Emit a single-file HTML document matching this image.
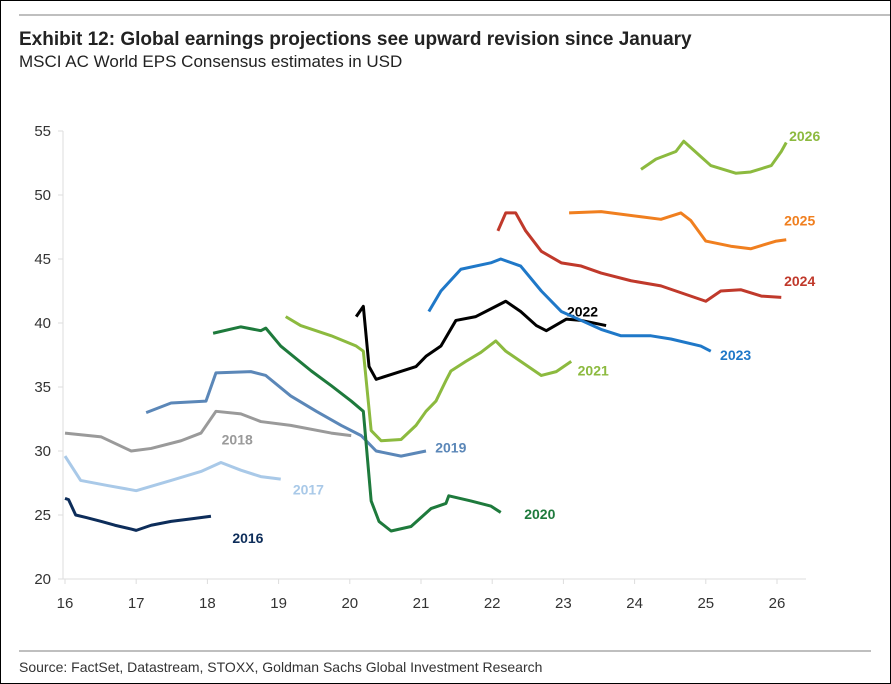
<!DOCTYPE html>
<html><head><meta charset="utf-8"><style>
body{margin:0;background:#fff;font-family:"Liberation Sans",sans-serif}
#wrap{position:relative;width:889px;height:682px;border:1px solid #000;overflow:hidden}
</style></head><body>
<div id="wrap">
<svg id="chart" width="889" height="682">
<line x1="18" y1="14" x2="889" y2="14" stroke="#aaa" stroke-width="1.5"/>
<text x="18" y="44" font-size="19" font-weight="bold" fill="#222">Exhibit 12: Global earnings projections see upward revision since January</text>
<text x="18" y="66" font-size="17" fill="#222">MSCI AC World EPS Consensus estimates in USD</text>
<line x1="18" y1="650" x2="870" y2="650" stroke="#aaa" stroke-width="1.5"/>
<text x="18" y="671" font-size="14" fill="#333">Source: FactSet, Datastream, STOXX, Goldman Sachs Global Investment Research</text>
<g id="axes"></g><g id="series"></g>
</svg></div>
<script>
const yTicks=[20,25,30,35,40,45,50,55];
const xTicks=[16,17,18,19,20,21,22,23,24,25,26];
const seriesNames=["2016","2017","2018","2019","2020","2021","2022","2023","2024","2025","2026"];
const s2016=[[16,26.3],[16.05,26.2],[16.15,25.0],[16.3,24.8],[16.51,24.5],[16.7,24.2],[16.93,23.9],[17.0,23.8],[17.21,24.2],[17.49,24.5],[17.77,24.7],[18.05,24.9]];
const s2017=[[16,29.6],[16.22,27.7],[16.6,27.3],[17.0,26.9],[17.49,27.7],[17.91,28.4],[18.19,29.1],[18.47,28.5],[18.75,28.0],[19.03,27.8]];
const s2018=[[16,31.4],[16.51,31.1],[16.93,30.0],[17.21,30.2],[17.63,30.8],[17.91,31.4],[18.12,33.1],[18.47,32.9],[18.75,32.3],[19.17,32.0],[19.74,31.4],[20.02,31.2]];
const s2019=[[17.14,33.0],[17.49,33.75],[17.98,33.9],[18.12,36.1],[18.61,36.2],[18.82,35.9],[19.17,34.3],[19.53,33.1],[19.88,32.0],[20.16,31.2],[20.37,30.0],[20.72,29.6],[21.07,30.0]];
const s2020=[[18.08,39.2],[18.47,39.7],[18.75,39.4],[18.82,39.6],[19.03,38.2],[19.46,36.25],[19.74,35.1],[20.02,33.9],[20.19,33.1],[20.3,26.1],[20.41,24.5],[20.58,23.75],[20.86,24.1],[21.14,25.5],[21.35,25.9],[21.39,26.5],[21.7,26.1],[21.98,25.7],[22.12,25.2]];
const s2021=[[19.1,40.5],[19.31,39.8],[19.74,39.0],[20.09,38.2],[20.19,37.8],[20.3,31.6],[20.44,30.8],[20.72,30.9],[20.93,32.0],[21.07,33.1],[21.21,33.9],[21.35,35.5],[21.42,36.25],[21.63,37.0],[21.84,37.7],[22.05,38.6],[22.19,37.8],[22.4,37.0],[22.69,35.9],[22.9,36.2],[23.11,37.0]];
const s2022=[[20.09,40.5],[20.19,41.3],[20.27,36.6],[20.37,35.6],[20.65,36.1],[20.93,36.6],[21.07,37.4],[21.28,38.2],[21.49,40.2],[21.77,40.5],[22.05,41.3],[22.19,41.7],[22.4,40.9],[22.62,39.8],[22.76,39.4],[23.04,40.3],[23.25,40.2],[23.6,39.8]];
const s2023=[[21.11,40.9],[21.28,42.5],[21.56,44.2],[21.98,44.7],[22.12,45.0],[22.4,44.45],[22.69,42.5],[22.97,40.9],[23.25,40.2],[23.53,39.5],[23.81,39.0],[24.23,39.0],[24.51,38.75],[24.93,38.2],[25.07,37.8]];
const s2024=[[22.08,47.2],[22.19,48.6],[22.33,48.6],[22.47,47.2],[22.69,45.6],[22.97,44.7],[23.25,44.45],[23.53,43.9],[23.95,43.3],[24.37,42.9],[25.0,41.7],[25.21,42.5],[25.49,42.6],[25.78,42.1],[26.06,42.0]];
const s2025=[[23.08,48.6],[23.53,48.7],[24.09,48.3],[24.37,48.1],[24.65,48.6],[24.79,48.0],[25.0,46.4],[25.35,46.0],[25.63,45.8],[25.99,46.4],[26.13,46.5]];
const s2026=[[24.09,52.0],[24.3,52.8],[24.58,53.4],[24.69,54.2],[24.93,53.0],[25.07,52.3],[25.42,51.7],[25.63,51.8],[25.92,52.3],[26.06,53.4],[26.13,54.1]];
const allSeries=[s2016,s2017,s2018,s2019,s2020,s2021,s2022,s2023,s2024,s2025,s2026];
const colors=["#0d2d5a","#a9c9e8","#9a9a9a","#5b87b8","#1e7a3c","#8cba3f","#000000","#1f78c8","#c0392b","#f07f1f","#8cba3f"];
const labelPos=[[18.35,22.8],[19.2,26.6],[18.2,30.5],[21.2,29.9],[22.45,24.7],[23.2,35.9],[23.05,40.5],[25.2,37.1],[26.1,42.9],[26.1,47.6],[26.17,54.2]];
const X=t=>64+(t-16)*71.2, Y=v=>578-(v-20)*12.8;
const NS="http://www.w3.org/2000/svg";
const ax=document.getElementById('axes'), sg=document.getElementById('series');
function mk(tag,attrs,parent){const e=document.createElementNS(NS,tag);for(const k in attrs)e.setAttribute(k,attrs[k]);parent.appendChild(e);return e;}
const yl=mk('line',{x1:62,y1:Y(55),x2:62,y2:Y(20),stroke:'#ddd'},ax);


const xl=mk('line',{x1:62,y1:Y(20),x2:805,y2:Y(20),stroke:'#ddd'},ax);


yTicks.forEach(v=>{const t=mk('text',{x:50,y:Y(v)+5,'font-size':15,fill:'#333','text-anchor':'end'},ax);t.textContent=v;


mk('line',{x1:57,y1:Y(v),x2:62,y2:Y(v),stroke:'#ddd'},ax);});
xTicks.forEach(v=>{const t=mk('text',{x:X(v),y:607,'font-size':15,fill:'#333','text-anchor':'middle'},ax);t.textContent=v;


mk('line',{x1:X(v),y1:Y(20),x2:X(v),y2:Y(20)+5,stroke:'#ddd'},ax);});
allSeries.forEach((s,i)=>{
const p=mk('polyline',{points:s.map(d=>X(d[0])+','+Y(d[1])).join(' '),fill:'none',stroke:colors[i],'stroke-width':3,'stroke-linejoin':'round'},sg);


const l=mk('text',{x:X(labelPos[i][0]),y:Y(labelPos[i][1]),'font-size':14,'font-weight':'bold',fill:colors[i]},sg);
l.textContent=seriesNames[i];


});
</script>
</body></html>
